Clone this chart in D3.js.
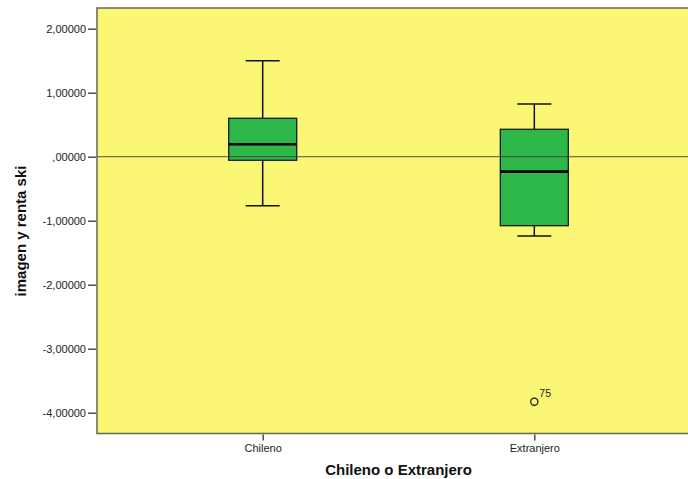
<!DOCTYPE html>
<html>
<head>
<meta charset="utf-8">
<script src="https://cdn.jsdelivr.net/npm/d3@7/dist/d3.min.js"></script>
<style>
	body { margin: 0; background: #fff; overflow: hidden }
	svg { display: block; font-family: 'Liberation Sans', Arial, sans-serif }
</style>
</head>
<body>
<svg></svg>
<script>
'use strict'

let groups = ['Chileno', 'Extranjero'],
	whisker_lo = [-0.766, -1.239],
	q1 = [-0.056, -1.078],
	median = [0.194, -0.234],
	q3 = [0.600, 0.428],
	whisker_hi = [1.500, 0.823],
	outlier_group = ['Extranjero'],
	outlier_value = [-3.83],
	outlier_case = ['75'],
	y_ticks = [2, 1, 0, -1, -2, -3, -4],
	y_domain = [-4.325, 2.323]

let width = 688, height = 479,
	plot = {left: 97, right: 700, top: 8, bottom: 433.5},
	x = d3.scalePoint().domain(groups).range([plot.left, plot.right]).padding(0.61),
	y = d3.scaleLinear().domain(y_domain).range([plot.bottom, plot.top]),
	box_w = 68, cap_w = 34,
	es = d3.formatLocale({decimal: ',', thousands: '.', grouping: [3], currency: ['', ''], minus: '-'}),
	fmt_y = v => es.format('.5f')(v).replace(/^0,/, ',')

let boxes = groups.map((g, n) => ({
	g: g, lo: whisker_lo[n], q1: q1[n], med: median[n], q3: q3[n], hi: whisker_hi[n] }))

let svg = d3.select('svg').attr('width', width).attr('height', height)

// plot area
svg.append('rect')
	.attr('x', plot.left).attr('y', plot.top)
	.attr('width', plot.right - plot.left).attr('height', plot.bottom - plot.top)
	.attr('fill', '#fbf674').attr('stroke', '#6e6e5a').attr('stroke-width', 1.6)

// boxes
svg.append('g').selectAll('g').data(boxes).join('g')
	.attr('transform', d => `translate(${x(d.g)} 0)`)
	.call(s => {
		s.append('line').attr('y1', d => y(d.hi)).attr('y2', d => y(d.q3))
			.attr('stroke', '#111').attr('stroke-width', 1.5)
		s.append('line').attr('y1', d => y(d.q1)).attr('y2', d => y(d.lo))
			.attr('stroke', '#111').attr('stroke-width', 1.5)
		s.selectAll('line.cap').data(d => [d.hi, d.lo]).join('line').attr('class', 'cap')
			.attr('x1', -cap_w / 2).attr('x2', cap_w / 2)
			.attr('y1', v => y(v)).attr('y2', v => y(v))
			.attr('stroke', '#111').attr('stroke-width', 1.5)
		s.append('rect')
			.attr('x', -box_w / 2).attr('width', box_w)
			.attr('y', d => y(d.q3)).attr('height', d => y(d.q1) - y(d.q3))
			.attr('fill', '#2fb84a').attr('stroke', '#1a1a1a').attr('stroke-width', 1.3)
		s.append('line').attr('x1', -box_w / 2).attr('x2', box_w / 2)
			.attr('y1', d => y(d.med)).attr('y2', d => y(d.med))
			.attr('stroke', '#000').attr('stroke-width', 2.6) })

// reference line at 0
svg.append('line')
	.attr('x1', plot.left).attr('x2', plot.right)
	.attr('y1', y(0)).attr('y2', y(0))
	.attr('stroke', '#3c3c3c').attr('stroke-opacity', 0.7).attr('stroke-width', 1.3)

// outliers
svg.append('g').selectAll('g').data(outlier_value).join('g')
	.attr('transform', (v, n) => `translate(${x(outlier_group[n])} ${y(v)})`)
	.call(s => {
		s.append('circle').attr('r', 3.6)
			.attr('fill', 'none').attr('stroke', '#111').attr('stroke-width', 1.2)
		s.append('text').attr('x', 5).attr('y', -5)
			.attr('font-size', 10.5).attr('fill', '#222')
			.text((v, n) => outlier_case[n]) })

// axes
svg.append('g').attr('transform', `translate(${plot.left - 1} 0)`)
	.call(d3.axisLeft(y).tickValues(y_ticks).tickFormat(fmt_y).tickSize(8).tickPadding(2))
	.call(s => {
		s.select('.domain').remove()
		s.selectAll('.tick line').attr('stroke', '#333').attr('stroke-width', 1.3)
		s.selectAll('.tick text').attr('font-size', 11).attr('fill', '#222')
			.attr('font-family', "'Liberation Sans', Arial, sans-serif") })

svg.append('g').attr('transform', `translate(0 ${plot.bottom + 1})`)
	.call(d3.axisBottom(x).tickSize(6).tickPadding(4))
	.call(s => {
		s.select('.domain').remove()
		s.selectAll('.tick line').attr('stroke', '#333').attr('stroke-width', 1.3)
		s.selectAll('.tick text').attr('font-size', 11).attr('fill', '#222')
			.attr('font-family', "'Liberation Sans', Arial, sans-serif") })

svg.append('text')
	.attr('x', (plot.left + plot.right) / 2).attr('y', 475)
	.attr('text-anchor', 'middle').attr('font-size', 15).attr('font-weight', 'bold')
	.attr('fill', '#111').text('Chileno o Extranjero')

svg.append('text')
	.attr('transform', 'translate(26 231) rotate(-90)')
	.attr('text-anchor', 'middle').attr('font-size', 15).attr('font-weight', 'bold')
	.attr('fill', '#111').text('imagen y renta ski')
</script>
</body>
</html>
